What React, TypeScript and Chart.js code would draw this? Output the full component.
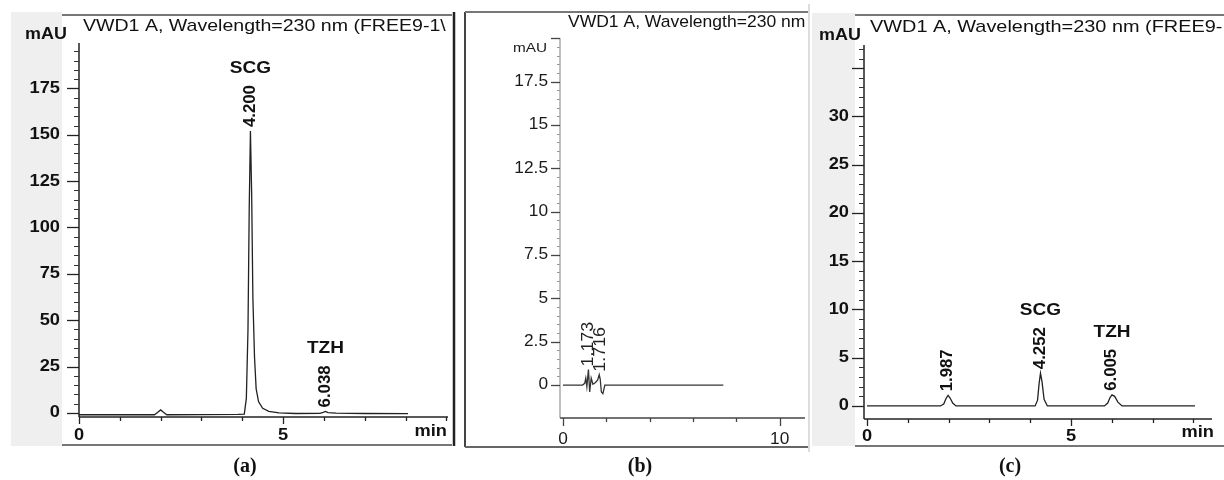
import React, { useEffect, useRef } from "react";
import { Chart, registerables } from "chart.js";
Chart.register(...registerables);

// ---------- Panel (a) data ----------
const aTime = [0, 0.5, 1.85, 1.93, 2.0, 2.07, 2.15, 3.0, 3.9, 4.05, 4.1, 4.14, 4.17, 4.2, 4.23, 4.26, 4.3, 4.34, 4.4, 4.5, 4.65, 4.9, 5.3, 5.9, 5.98, 6.04, 6.1, 6.3, 7.0, 8.06];
const aSignal = [-1.0, -1.0, -1.0, 0.3, 1.6, 0.3, -1.0, -0.9, -0.8, -0.6, 8, 45, 110, 152, 118, 62, 30, 13, 6, 2.5, 0.8, 0, -0.3, -0.2, 0.3, 0.8, 0.2, -0.1, -0.3, -0.4];
const aPeakTimes = [4.2, 6.038];
const aPeakLabels = ["4.200", "6.038"];
const aPeakNames = ["SCG", "TZH"];
const aYTickLabels = [0, 25, 50, 75, 100, 125, 150, 175];
const aXTickLabels = [0, 5];

// ---------- Panel (b) data ----------
const bTime = [0, 0.9, 1.0, 1.05, 1.1, 1.173, 1.23, 1.3, 1.38, 1.5, 1.6, 1.67, 1.716, 1.77, 1.84, 1.93, 2.05, 7.4];
const bSignal = [0, 0, 0.1, 0.4, -0.1, 0.9, -0.4, 0.4, 0.05, 0.15, 0.3, 0.6, 0.35, -0.4, -0.5, 0, 0, 0];
const bPeakTimes = [1.173, 1.716];
const bPeakLabels = ["1.173", "1.716"];
const bPeakNames = ["", ""];
const bYTickLabels = [0, 2.5, 5, 7.5, 10, 12.5, 15, 17.5];
const bXTickLabels = [0, 10];

// ---------- Panel (c) data ----------
const cTime = [0, 1.8, 1.88, 1.94, 1.987, 2.04, 2.1, 2.18, 4.12, 4.18, 4.22, 4.252, 4.29, 4.34, 4.42, 5.82, 5.9, 5.96, 6.005, 6.07, 6.15, 6.25, 8.04];
const cSignal = [0, 0, 0.2, 0.8, 1.1, 0.8, 0.3, 0, 0, 0.6, 2.4, 3.4, 2.5, 0.7, 0, 0, 0.3, 0.9, 1.15, 1.0, 0.4, 0, 0];
const cPeakTimes = [1.987, 4.252, 6.005];
const cPeakLabels = ["1.987", "4.252", "6.005"];
const cPeakNames = ["", "SCG", "TZH"];
const cYTickLabels = [0, 5, 10, 15, 20, 25, 30];
const cXTickLabels = [0, 5];

const SANS = '"Liberation Sans", Arial, sans-serif';
const SERIF = '"Liberation Serif", "Times New Roman", serif';

type Spec = any;

const specA: Spec = {
  L: 0, W: 458,
  time: aTime, signal: aSignal,
  peakTimes: aPeakTimes, peakLabels: aPeakLabels, peakNames: aPeakNames,
  yLabels: aYTickLabels, xLabels: aXTickLabels,
  area: { left: 79, right: 448, top: 43, bottom: 417 },
  x: { min: 0, max: 9.04 }, y: { min: -2.2, max: 199.5 },
  yMinor: 5, yMajor: 25, yMajorLen: 12, yMinorLen: 5,
  xMinor: 1, xMajor: 5, xMajorLen: 7, xMinorLen: 4,
  axisColor: "#222", yAxisColor: "#222", minorColor: "#333",
  tickFont: "bold 16px " + SANS, tickSx: 1.14, tickColor: "#111",
  yLabelRight: 60, xLabelY: 436,
  unit: { text: "mAU", font: "bold 16px " + SANS, sx: 1.12, x: 46, y: 35 },
  minLabel: { right: 447, y: 432 },
  title: { text: "VWD1 A, Wavelength=230 nm (FREE9-1\\", x: 83, y: 31, font: "17px " + SANS, sx: 1.15, clip: 452 },
  gray: [11, 12, 51, 434],
  lines: [[62, 15, 452, 15, 2, "#777"], [62, 445, 452, 445, 2, "#777"], [454, 12, 454, 446, 2.5, "#222"]],
  caption: { text: "(a)", x: 245, y: 467 },
  traceColor: "#222",
  peakFont: "bold 16px " + SANS, peakSx: 1.05, peakGap: 4, peakColor: "#111",
  nameFont: "bold 17px " + SANS, nameSx: 1.12,
};

const specB: Spec = {
  L: 458, W: 352,
  time: bTime, signal: bSignal,
  peakTimes: bPeakTimes, peakLabels: bPeakLabels, peakNames: bPeakNames,
  yLabels: bYTickLabels, xLabels: bXTickLabels,
  area: { left: 560, right: 805, top: 38, bottom: 418 },
  x: { min: -0.14, max: 11.17 }, y: { min: -1.9, max: 20.02 },
  yMinor: 0.5, yMajor: 2.5, yMajorLen: 9, yMinorLen: 3,
  xMinor: 2, xMajor: 10, xMajorLen: 8, xMinorLen: 4,
  axisColor: "#444", yAxisColor: "#aaa", minorColor: "#999",
  tickFont: "16px " + SANS, tickSx: 1.08, tickColor: "#1a1a1a",
  yLabelRight: 548, xLabelY: 440,
  unit: { text: "mAU", font: "13px " + SANS, sx: 1.18, x: 530, y: 48 },
  minLabel: null,
  title: { text: "VWD1 A, Wavelength=230 nm", x: 568, y: 27, font: "17px " + SANS, sx: 1.03, clip: 808 },
  gray: null,
  lines: [[465, 12, 465, 447, 2, "#444"], [465, 12, 808, 12, 2, "#777"], [465, 447, 808, 447, 2, "#666"], [809, 4, 809, 452, 2, "#ddd"]],
  caption: { text: "(b)", x: 640, y: 467 },
  traceColor: "#333",
  peakFont: "17px " + SANS, peakSx: 1.05, peakGap: 3, peakColor: "#222",
  nameFont: "bold 17px " + SANS, nameSx: 1.12,
};

const specC: Spec = {
  L: 810, W: 414,
  time: cTime, signal: cSignal,
  peakTimes: cPeakTimes, peakLabels: cPeakLabels, peakNames: cPeakNames,
  yLabels: cYTickLabels, xLabels: cXTickLabels,
  area: { left: 864, right: 1212, top: 45, bottom: 419 },
  x: { min: -0.074, max: 8.456 }, y: { min: -1.35, max: 37.4 },
  yMinor: 1, yMajor: 5, yMajorLen: 12, yMinorLen: 5,
  xMinor: 1, xMajor: 5, xMajorLen: 7, xMinorLen: 4,
  axisColor: "#222", yAxisColor: "#222", minorColor: "#333",
  tickFont: "bold 16px " + SANS, tickSx: 1.14, tickColor: "#111",
  yLabelRight: 849, xLabelY: 437,
  unit: { text: "mAU", font: "bold 16px " + SANS, sx: 1.12, x: 840, y: 36 },
  minLabel: { right: 1214, y: 433 },
  title: { text: "VWD1 A, Wavelength=230 nm (FREE9-", x: 870, y: 32, font: "17px " + SANS, sx: 1.17, clip: 1224 },
  gray: [812, 13, 43, 433],
  lines: [[855, 15, 1224, 15, 2, "#777"], [855, 446, 1224, 446, 2, "#777"]],
  caption: { text: "(c)", x: 1010, y: 467 },
  traceColor: "#222",
  peakFont: "bold 16px " + SANS, peakSx: 1.05, peakGap: 4, peakColor: "#111",
  nameFont: "bold 17px " + SANS, nameSx: 1.12,
};

function drawText(ctx: CanvasRenderingContext2D, s: string, x: number, y: number, font: string, o: any = {}) {
  ctx.save();
  ctx.translate(x, y);
  if (o.rot) ctx.rotate(o.rot);
  ctx.scale(o.sx || 1, 1);
  ctx.font = font;
  ctx.fillStyle = o.color || "#111";
  ctx.textAlign = o.align || "left";
  ctx.textBaseline = o.baseline || "alphabetic";
  ctx.fillText(s, 0, 0);
  const w = ctx.measureText(s).width * (o.sx || 1);
  ctx.restore();
  return w;
}

function line(ctx: CanvasRenderingContext2D, x1: number, y1: number, x2: number, y2: number, w: number, c: string) {
  ctx.save();
  ctx.strokeStyle = c;
  ctx.lineWidth = w;
  ctx.beginPath();
  ctx.moveTo(x1, y1);
  ctx.lineTo(x2, y2);
  ctx.stroke();
  ctx.restore();
}

function isMultiple(v: number, step: number) {
  const r = v / step;
  return Math.abs(r - Math.round(r)) < 1e-6;
}

function panelPlugin(s: Spec) {
  return {
    id: "panel",
    beforeDatasetsDraw(chart: any) {
      const ctx: CanvasRenderingContext2D = chart.ctx;
      ctx.save();
      ctx.translate(-s.L, 0);
      if (s.gray) {
        ctx.fillStyle = "#efefef";
        ctx.fillRect(s.gray[0], s.gray[1], s.gray[2], s.gray[3]);
      }
      s.lines.forEach((l: any) => line(ctx, l[0], l[1], l[2], l[3], l[4], l[5]));
      ctx.restore();
    },
    afterDatasetsDraw(chart: any) {
      const ctx: CanvasRenderingContext2D = chart.ctx;
      const xs = chart.scales.x;
      const ys = chart.scales.y;
      const X = (v: number) => xs.getPixelForValue(v) + s.L;
      const Y = (v: number) => ys.getPixelForValue(v);
      const a = s.area;
      ctx.save();
      ctx.translate(-s.L, 0);

      // y axis
      line(ctx, a.left, a.top, a.left, a.bottom, 1.5, s.yAxisColor);
      const yStart = Math.ceil(s.y.min / s.yMinor) * s.yMinor;
      for (let v = yStart; v <= s.y.max + 1e-9; v += s.yMinor) {
        const vv = Math.round(v * 1000) / 1000;
        if (vv < 0) continue;
        const major = isMultiple(vv, s.yMajor);
        const len = major ? s.yMajorLen : s.yMinorLen;
        const py = Math.round(Y(vv)) + 0.5;
        line(ctx, a.left - len, py, a.left, py, major ? 1.3 : 1, major ? s.axisColor : s.minorColor);
      }
      s.yLabels.forEach((v: number) => {
        drawText(ctx, String(v), s.yLabelRight, Y(v), s.tickFont, { align: "right", baseline: "middle", sx: s.tickSx, color: s.tickColor });
      });

      // x axis
      line(ctx, a.left, a.bottom, a.right, a.bottom, 1.5, s.axisColor);
      for (let v = 0; v <= s.x.max + 1e-9; v += s.xMinor) {
        const major = isMultiple(v, s.xMajor);
        const len = major ? s.xMajorLen : s.xMinorLen;
        const px = Math.round(X(v)) + 0.5;
        line(ctx, px, a.bottom, px, a.bottom + len, 1.3, s.axisColor);
      }
      s.xLabels.forEach((v: number) => {
        drawText(ctx, String(v), X(v), s.xLabelY, s.tickFont, { align: "center", baseline: "middle", sx: s.tickSx, color: s.tickColor });
      });
      if (s.minLabel) {
        drawText(ctx, "min", s.minLabel.right, s.minLabel.y, s.tickFont, { align: "right", baseline: "middle", sx: s.tickSx, color: s.tickColor });
      }

      // unit
      drawText(ctx, s.unit.text, s.unit.x, s.unit.y, s.unit.font, { align: "center", baseline: "middle", sx: s.unit.sx, color: s.tickColor });

      // title
      ctx.save();
      ctx.beginPath();
      ctx.rect(s.title.x - 5, 0, s.title.clip - s.title.x + 5, 60);
      ctx.clip();
      drawText(ctx, s.title.text, s.title.x, s.title.y, s.title.font, { sx: s.title.sx, color: "#111" });
      ctx.restore();

      // peaks
      s.peakTimes.forEach((t: number, i: number) => {
        let peak = -Infinity;
        s.time.forEach((tt: number, k: number) => {
          if (Math.abs(tt - t) <= 0.06 && s.signal[k] > peak) peak = s.signal[k];
        });
        const px = X(t);
        const bottom = Y(peak) - s.peakGap;
        const w = drawText(ctx, s.peakLabels[i], px, bottom, s.peakFont, { rot: -Math.PI / 2, align: "left", baseline: "middle", sx: s.peakSx, color: s.peakColor });
        const top = bottom - w;
        if (s.peakNames[i]) {
          drawText(ctx, s.peakNames[i], px, top - 17, s.nameFont, { align: "center", baseline: "middle", sx: s.nameSx, color: "#111" });
        }
      });

      // caption
      drawText(ctx, s.caption.text, s.caption.x, s.caption.y, "bold 20px " + SERIF, { align: "center", baseline: "middle", color: "#111" });
      ctx.restore();
    },
  };
}

function makeChart(canvas: HTMLCanvasElement, s: Spec) {
  const data = s.time.map((t: number, i: number) => ({ x: t, y: s.signal[i] }));
  return new Chart(canvas, {
    type: "line",
    data: {
      datasets: [
        {
          data,
          borderColor: s.traceColor,
          borderWidth: 1.3,
          pointRadius: 0,
          tension: 0,
          fill: false,
        },
      ],
    },
    options: {
      animation: false,
      responsive: false,
      maintainAspectRatio: false,
      devicePixelRatio: 1,
      events: [],
      layout: {
        padding: {
          left: s.area.left - s.L,
          right: s.L + s.W - s.area.right,
          top: s.area.top,
          bottom: 480 - s.area.bottom,
        },
      },
      scales: {
        x: { type: "linear", display: false, min: s.x.min, max: s.x.max },
        y: { type: "linear", display: false, min: s.y.min, max: s.y.max },
      },
      plugins: {
        legend: { display: false },
        tooltip: { enabled: false },
        title: { display: false },
      },
    },
    plugins: [panelPlugin(s)],
  } as any);
}

const specs = [specA, specB, specC];

export default function App() {
  const refs = [useRef<HTMLCanvasElement>(null), useRef<HTMLCanvasElement>(null), useRef<HTMLCanvasElement>(null)];
  useEffect(() => {
    const charts = specs.map((s, i) => makeChart(refs[i].current as HTMLCanvasElement, s));
    return () => charts.forEach((c) => c.destroy());
  }, []);
  return (
    <div style={{ position: "absolute", left: 0, top: 0, width: 1224, height: 480, background: "#fff", overflow: "hidden" }}>
      {specs.map((s, i) => (
        <canvas
          key={i}
          ref={refs[i]}
          width={s.W}
          height={480}
          style={{ position: "absolute", left: s.L, top: 0, width: s.W, height: 480 }}
        />
      ))}
    </div>
  );
}
